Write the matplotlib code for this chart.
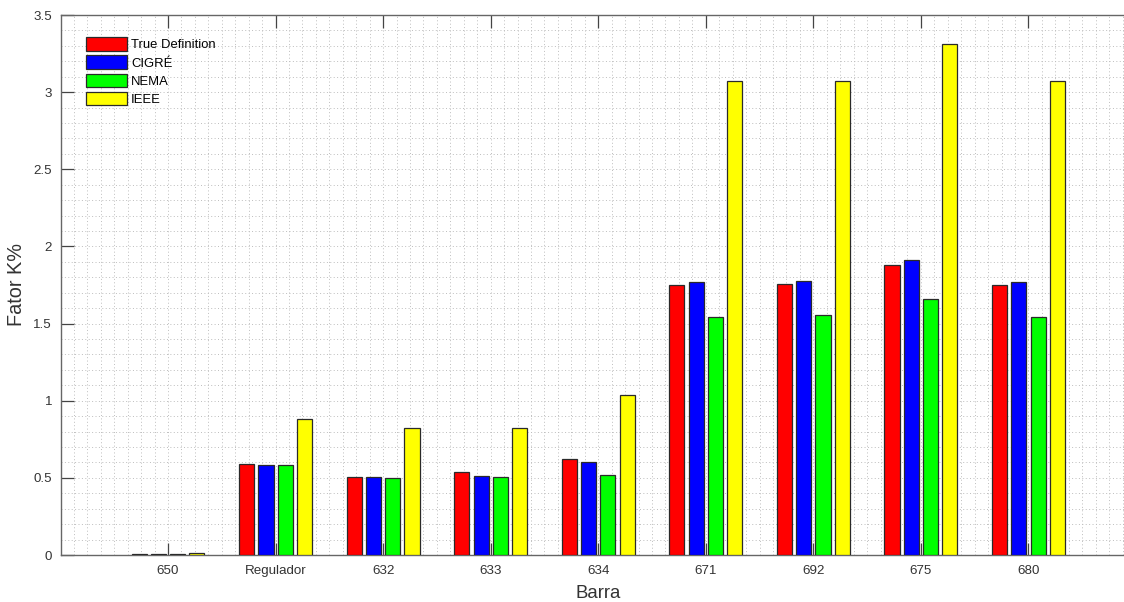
import matplotlib
matplotlib.use("Agg")
import matplotlib.pyplot as plt
import numpy as np
from matplotlib.ticker import MultipleLocator

plt.rcParams['font.family'] = ['Liberation Sans', 'DejaVu Sans']

categories = ["650", "Regulador", "632", "633", "634", "671", "692", "675", "680"]
series_names = ["True Definition", "CIGRÉ", "NEMA", "IEEE"]
true_def = [0.005, 0.59, 0.505, 0.54, 0.62, 1.75, 1.755, 1.88, 1.75]
cigre = [0.006, 0.585, 0.505, 0.51, 0.60, 1.77, 1.775, 1.91, 1.77]
nema = [0.006, 0.585, 0.50, 0.505, 0.52, 1.545, 1.555, 1.66, 1.545]
ieee = [0.012, 0.88, 0.82, 0.825, 1.04, 3.07, 3.075, 3.31, 3.07]
colors = ["#ff0000", "#0000ff", "#00ff00", "#ffff00"]

fig = plt.figure(figsize=(11.24, 6.02), dpi=100)
ax = fig.add_axes([60.5/1124, 47/602, 1075.5/1124, 540/602])

x = np.arange(1, len(categories) + 1)
step = 0.179
width = 0.14
for i, (vals, name, c) in enumerate(zip([true_def, cigre, nema, ieee], series_names, colors)):
    ax.bar(x + (i - 1.5) * step, vals, width=width, color=c, edgecolor="#2a2a2a",
           linewidth=0.9, label=name, zorder=3)

ax.set_xlim(0, 10)
ax.set_ylim(0, 3.5)
ax.set_xticks(x)
ax.set_xticklabels(categories)
ax.set_yticks(np.arange(0, 3.51, 0.5))
ax.set_yticklabels(["0", "0.5", "1", "1.5", "2", "2.5", "3", "3.5"])
ax.xaxis.set_minor_locator(MultipleLocator(0.125))
ax.yaxis.set_minor_locator(MultipleLocator(0.1))
ax.grid(True, which="both", linestyle=(0, (1, 2.5)), color="#bdbdbd", linewidth=0.7, zorder=0)
ax.set_axisbelow(True)

ax.tick_params(axis="both", which="major", direction="in", length=9, width=0.9,
               color="#444444", labelcolor="#333333", labelsize=9.6, top=True, right=True)
ax.tick_params(axis="y", which="major", pad=6)
ax.tick_params(axis="x", which="major", pad=7)
ax.tick_params(axis="both", which="minor", length=0)
for s in ax.spines.values():
    s.set_color("#666666")
    s.set_linewidth(1.0)

ax.set_xlabel("Barra", fontsize=13.4, color="#333333", labelpad=6)
ax.set_ylabel("Fator K%", fontsize=14.3, color="#333333", labelpad=5)

leg = ax.legend(loc="upper left", bbox_to_anchor=(0.0237, 0.959), frameon=False, fontsize=9.4,
                handlelength=3.15, handleheight=1.2, handletextpad=0.3, labelspacing=0.32,
                borderaxespad=0.0, borderpad=0.0)

fig.savefig("out.png", dpi=100)
